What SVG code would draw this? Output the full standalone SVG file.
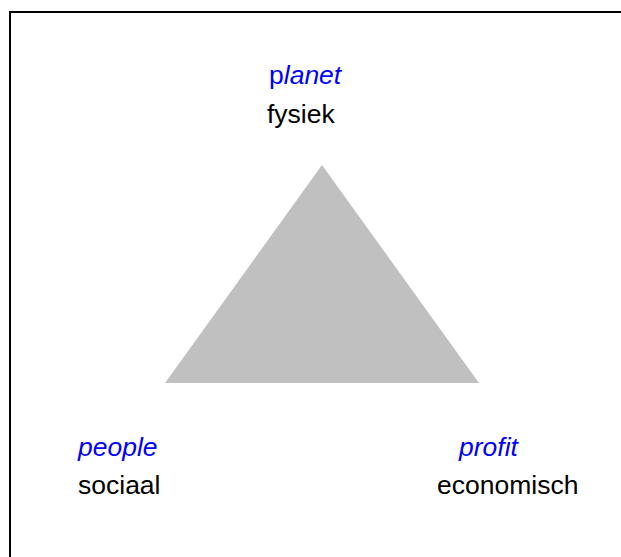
<svg xmlns="http://www.w3.org/2000/svg" width="621" height="557" viewBox="0 0 621 557">
<style>
.t{font-family:"Liberation Sans",Arial,sans-serif;font-size:26.5px;fill:#000}
.b{fill:#0000FF;font-style:italic}
</style>
<rect x="0" y="0" width="621" height="557" fill="#fff"/>
<rect id="frame" x="10" y="12" width="640" height="580" fill="none" stroke="#000" stroke-width="2"/>
<g id="triangle">
<polygon points="322,165 165,383 479,383" fill="#C0C0C0"/>
</g>
<g id="planet">
<text class="t" x="269" y="84"><tspan fill="#0000FF">p</tspan><tspan class="b">lanet</tspan></text>
<text class="t" x="267" y="123">fysiek</text>
</g>
<g id="people">
<text class="t b" x="78" y="456">people</text>
<text class="t" x="78" y="494">sociaal</text>
</g>
<g id="profit">
<text class="t b" x="459" y="456">profit</text>
<text class="t" x="437" y="494">economisch</text>
</g>
<g id="connectors"></g>
</svg>
